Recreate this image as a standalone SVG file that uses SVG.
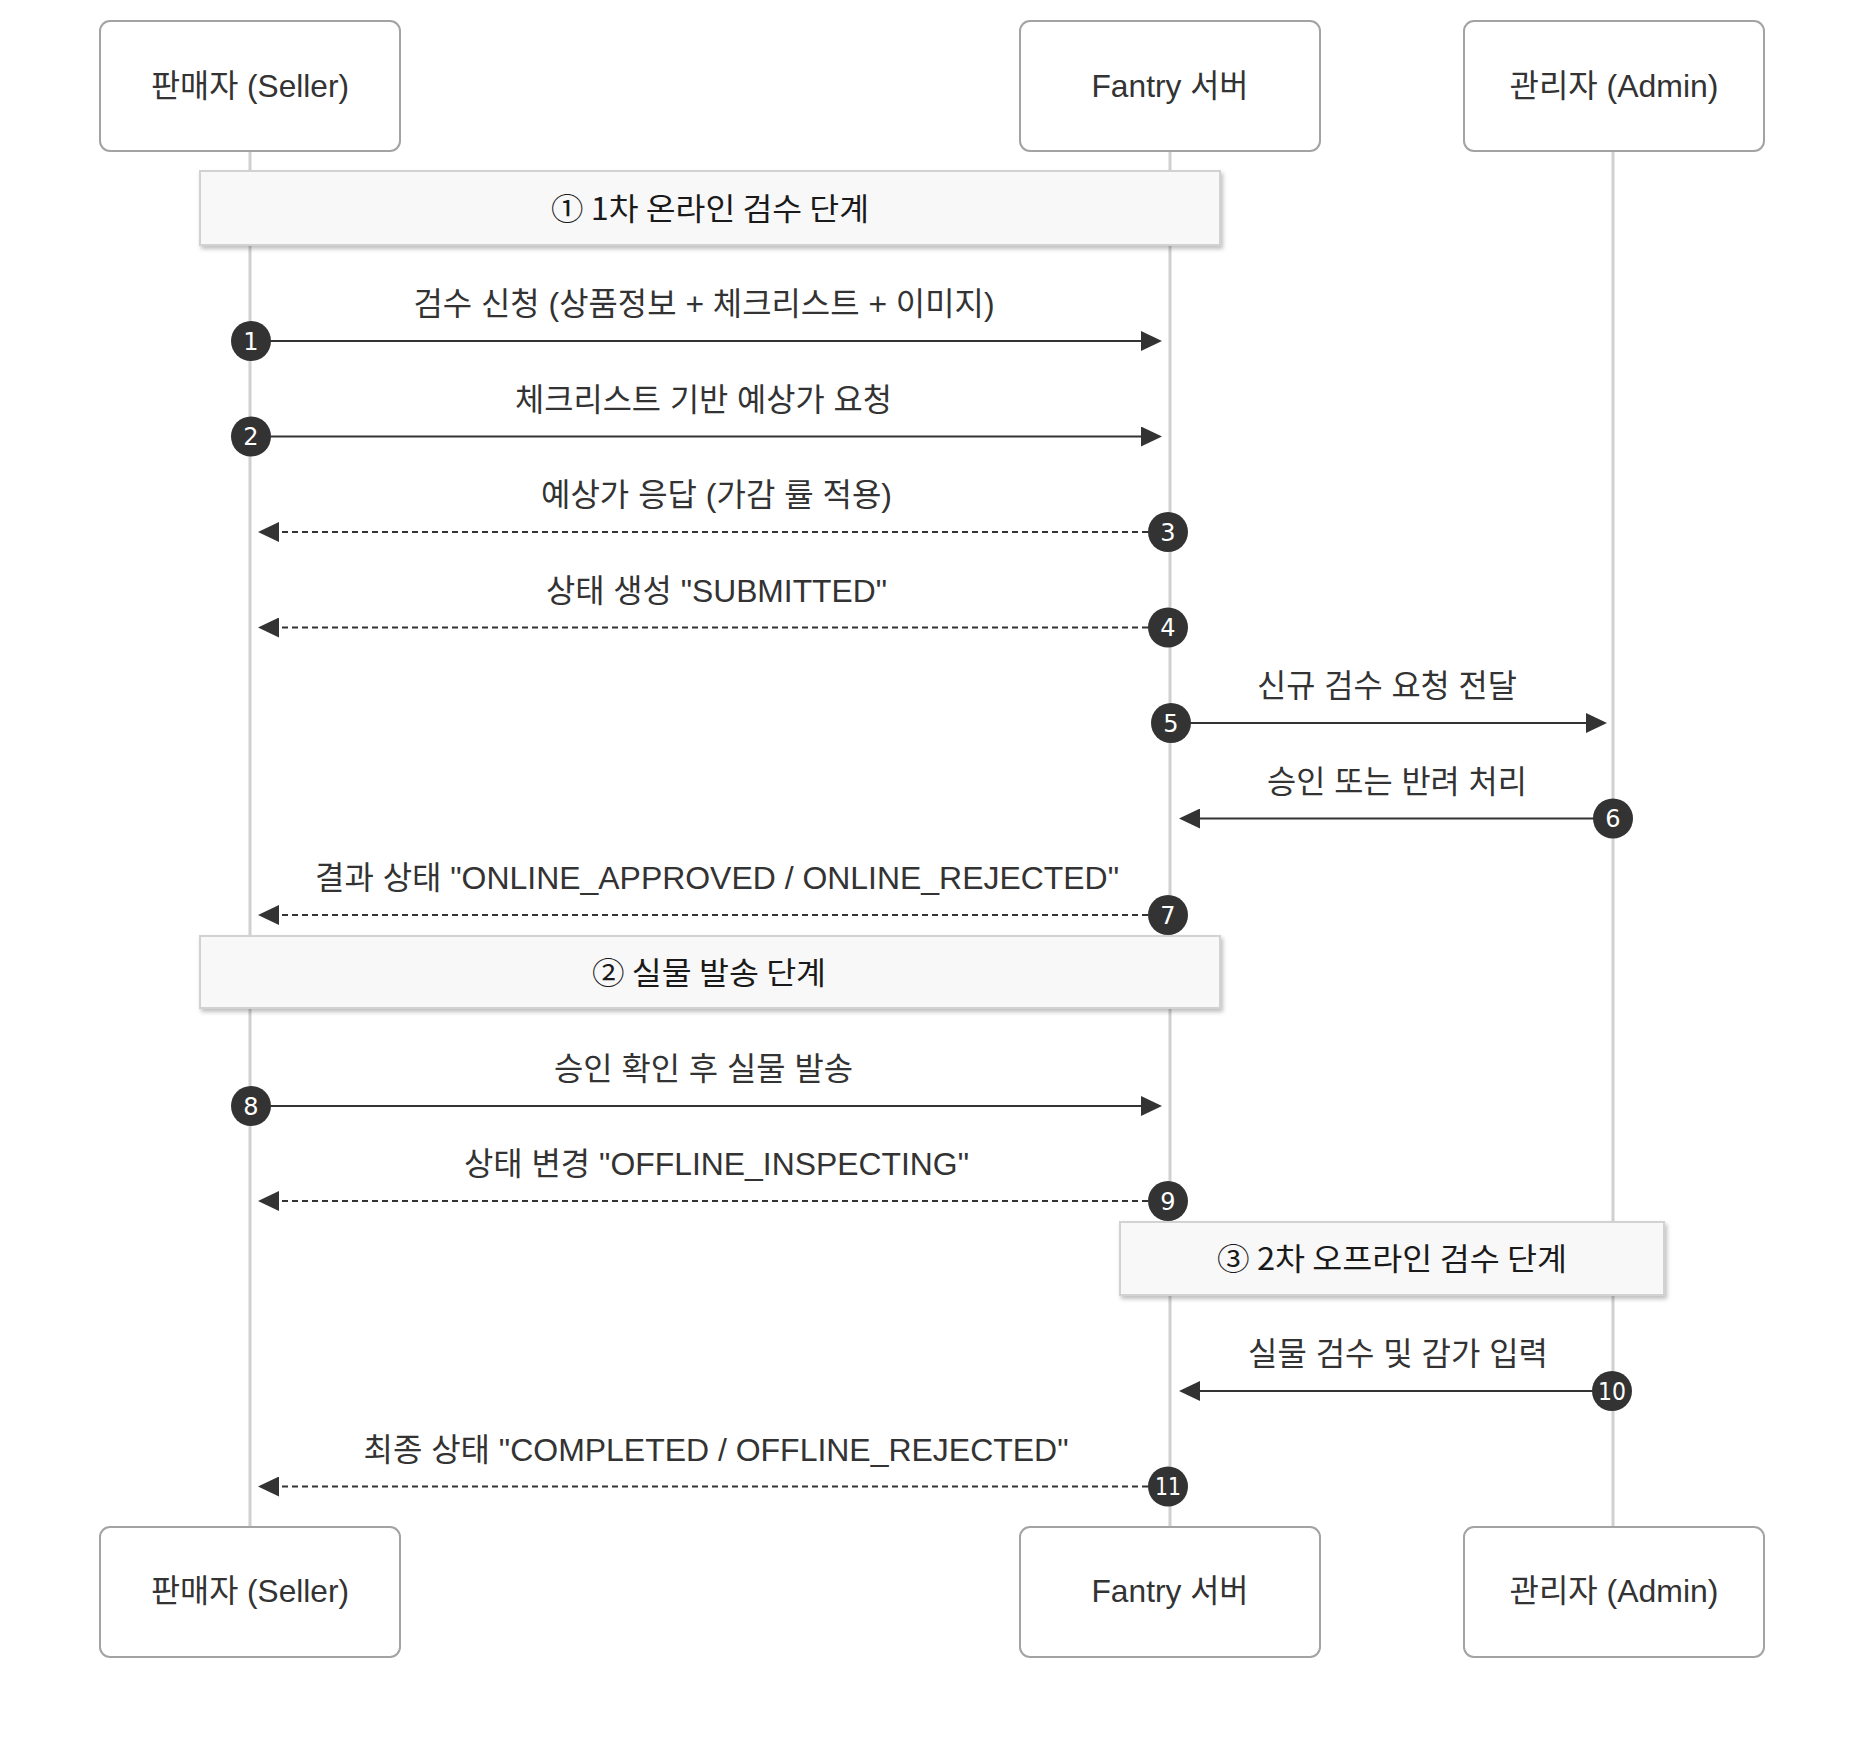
<svg xmlns="http://www.w3.org/2000/svg" width="1864" height="1740" viewBox="0 0 1864 1740">
<style>
.actor rect{fill:#fff;stroke:#a3a3a3;stroke-width:2}
.actor text,.lbl{font-family:"Liberation Sans","Noto Sans CJK KR",sans-serif;font-size:32px;fill:#333;text-anchor:middle}
.life{stroke:#d0d0d0;stroke-width:3}
.note rect{fill:#f8f8f8;stroke:#d2d2d2;stroke-width:2}
.note text{font-family:"Noto Sans CJK KR","Noto Sans",sans-serif;font-size:31px;fill:#1a1a1a;text-anchor:middle}
.msg{stroke:#333;stroke-width:2;fill:none;marker-end:url(#ah)}
.dash{stroke-dasharray:6 4}
.num circle{fill:#333}
.num text{font-family:"DejaVu Sans",sans-serif;font-size:24px;fill:#fff;text-anchor:middle}
</style>
<defs>
<marker id="ah" viewBox="0 0 21 20" refX="17" refY="10" markerWidth="21" markerHeight="20" markerUnits="userSpaceOnUse" orient="auto"><path d="M0,0 L21,10 L0,20 z" fill="#333"/></marker>
<filter id="sh" x="-5%" y="-20%" width="110%" height="150%"><feDropShadow dx="2" dy="3" stdDeviation="2" flood-color="#000" flood-opacity="0.25"/></filter>
</defs>
<rect width="1864" height="1740" fill="#fff"/>
<g id="lifelines">
<line class="life" x1="250" y1="151" x2="250" y2="1527"/>
<line class="life" x1="1170" y1="151" x2="1170" y2="1527"/>
<line class="life" x1="1613" y1="151" x2="1613" y2="1527"/>
</g>
<g id="actor-seller-top" class="actor"><rect x="100" y="21" width="300" height="130" rx="10"/><text x="250" y="96.5" textLength="198" lengthAdjust="spacingAndGlyphs">판매자 (Seller)</text></g>
<g id="actor-server-top" class="actor"><rect x="1020" y="21" width="300" height="130" rx="10"/><text x="1170" y="96.5" textLength="157" lengthAdjust="spacingAndGlyphs">Fantry 서버</text></g>
<g id="actor-admin-top" class="actor"><rect x="1464" y="21" width="300" height="130" rx="10"/><text x="1614" y="96.5" textLength="209" lengthAdjust="spacingAndGlyphs">관리자 (Admin)</text></g>
<g id="actor-seller-bottom" class="actor"><rect x="100" y="1527" width="300" height="130" rx="10"/><text x="250" y="1602" textLength="198" lengthAdjust="spacingAndGlyphs">판매자 (Seller)</text></g>
<g id="actor-server-bottom" class="actor"><rect x="1020" y="1527" width="300" height="130" rx="10"/><text x="1170" y="1602" textLength="157" lengthAdjust="spacingAndGlyphs">Fantry 서버</text></g>
<g id="actor-admin-bottom" class="actor"><rect x="1464" y="1527" width="300" height="130" rx="10"/><text x="1614" y="1602" textLength="209" lengthAdjust="spacingAndGlyphs">관리자 (Admin)</text></g>
<g id="note-1" class="note"><rect x="200" y="171" width="1020" height="74" filter="url(#sh)"/><text x="710" y="220" textLength="318" lengthAdjust="spacingAndGlyphs">① 1차 온라인 검수 단계</text></g>
<g id="note-2" class="note"><rect x="200" y="936" width="1020" height="72" filter="url(#sh)"/><text x="709" y="984" textLength="234" lengthAdjust="spacingAndGlyphs">② 실물 발송 단계</text></g>
<g id="note-3" class="note"><rect x="1120" y="1222" width="544" height="73" filter="url(#sh)"/><text x="1392" y="1270" textLength="350" lengthAdjust="spacingAndGlyphs">③ 2차 오프라인 검수 단계</text></g>
<g id="connectors">
<line class="msg" x1="251" y1="341" x2="1158" y2="341"/>
<line class="msg" x1="251" y1="436.5" x2="1158" y2="436.5"/>
<line class="msg dash" x1="1168" y1="532" x2="262" y2="532"/>
<line class="msg dash" x1="1168" y1="627.5" x2="262" y2="627.5"/>
<line class="msg" x1="1171" y1="723" x2="1603" y2="723"/>
<line class="msg" x1="1613" y1="818.5" x2="1183" y2="818.5"/>
<line class="msg dash" x1="1168" y1="915" x2="262" y2="915"/>
<line class="msg" x1="251" y1="1106" x2="1158" y2="1106"/>
<line class="msg dash" x1="1168" y1="1201" x2="262" y2="1201"/>
<line class="msg" x1="1612" y1="1391" x2="1183" y2="1391"/>
<line class="msg dash" x1="1168" y1="1486.5" x2="262" y2="1486.5"/>
</g>
<g id="labels">
<text class="lbl" x="704" y="315" textLength="581" lengthAdjust="spacingAndGlyphs">검수 신청 (상품정보 + 체크리스트 + 이미지)</text>
<text class="lbl" x="703.5" y="410.5" textLength="377" lengthAdjust="spacingAndGlyphs">체크리스트 기반 예상가 요청</text>
<text class="lbl" x="716.5" y="506" textLength="351" lengthAdjust="spacingAndGlyphs">예상가 응답 (가감 률 적용)</text>
<text class="lbl" x="716.5" y="601.5" textLength="341" lengthAdjust="spacingAndGlyphs">상태 생성 "SUBMITTED"</text>
<text class="lbl" x="1387" y="697" textLength="260" lengthAdjust="spacingAndGlyphs">신규 검수 요청 전달</text>
<text class="lbl" x="1397" y="792.5" textLength="260" lengthAdjust="spacingAndGlyphs">승인 또는 반려 처리</text>
<text class="lbl" x="717" y="889" textLength="804" lengthAdjust="spacingAndGlyphs">결과 상태 "ONLINE_APPROVED / ONLINE_REJECTED"</text>
<text class="lbl" x="703.5" y="1080" textLength="299" lengthAdjust="spacingAndGlyphs">승인 확인 후 실물 발송</text>
<text class="lbl" x="716.5" y="1175" textLength="505" lengthAdjust="spacingAndGlyphs">상태 변경 "OFFLINE_INSPECTING"</text>
<text class="lbl" x="1398" y="1365" textLength="300" lengthAdjust="spacingAndGlyphs">실물 검수 및 감가 입력</text>
<text class="lbl" x="716" y="1460.5" textLength="705" lengthAdjust="spacingAndGlyphs">최종 상태 "COMPLETED / OFFLINE_REJECTED"</text>
</g>
<g id="numbers" class="num">
<g id="n1"><circle cx="251" cy="341" r="20"/><text x="251" y="349.7">1</text></g>
<g id="n2"><circle cx="251" cy="436.5" r="20"/><text x="251" y="445.2">2</text></g>
<g id="n3"><circle cx="1168" cy="532" r="20"/><text x="1168" y="540.7">3</text></g>
<g id="n4"><circle cx="1168" cy="627.5" r="20"/><text x="1168" y="636.2">4</text></g>
<g id="n5"><circle cx="1171" cy="723" r="20"/><text x="1171" y="731.7">5</text></g>
<g id="n6"><circle cx="1613" cy="818.5" r="20"/><text x="1613" y="827.2">6</text></g>
<g id="n7"><circle cx="1168" cy="915" r="20"/><text x="1168" y="923.7">7</text></g>
<g id="n8"><circle cx="251" cy="1106" r="20"/><text x="251" y="1114.7">8</text></g>
<g id="n9"><circle cx="1168" cy="1201" r="20"/><text x="1168" y="1209.7">9</text></g>
<g id="n10"><circle cx="1612" cy="1391" r="20"/><text x="1612" y="1399.7" textLength="28" lengthAdjust="spacingAndGlyphs">10</text></g>
<g id="n11"><circle cx="1168" cy="1486.5" r="20"/><text x="1168" y="1495.2" textLength="26" lengthAdjust="spacingAndGlyphs">11</text></g>
</g>
</svg>
